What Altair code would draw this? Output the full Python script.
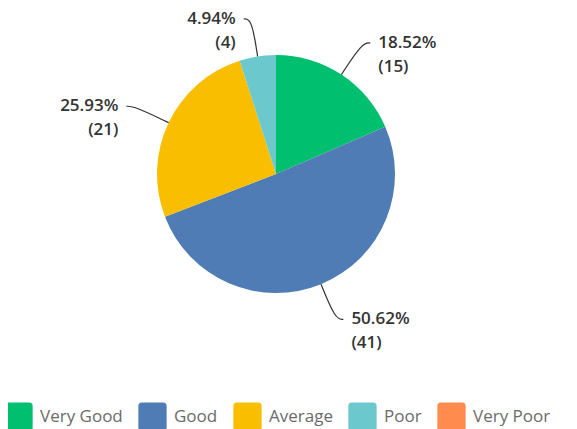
import altair as alt
import pandas as pd
import numpy as np

categories = ["Very Good", "Good", "Average", "Poor", "Very Poor"]
counts = [15, 41, 21, 4, 0]
colors = ["#00BF6F", "#507CB6", "#F9BE00", "#6BC8CD", "#FF8B4F"]

W, H = 561, 421
CX, CY, R = 268, 166, 119
R_ELBOW = 157
HOOK = 8
GAP = 8
LINE2 = 24

total = sum(counts)
df = pd.DataFrame({"category": categories, "count": counts, "order": list(range(len(categories)))})
df["pct_label"] = [f"{c / total * 100:.2f}%" for c in counts]
df["count_label"] = [f"({c})" for c in counts]
cum = df["count"].cumsum()
start = (cum - df["count"]) / total * 2 * np.pi
df["mid"] = start + df["count"] / total * np.pi

lab = df[df["count"] > 0].copy()
sgn = np.sign(np.sin(lab["mid"]))
ex = CX + R_ELBOW * np.sin(lab["mid"])
ey = CY - R_ELBOW * np.cos(lab["mid"])
lab["endx"] = ex + HOOK * sgn
lab["endy"] = ey
lab["tx"] = lab["endx"] + GAP * sgn
lab["ty2"] = lab["endy"] + LINE2
lab["align"] = np.where(sgn > 0, "left", "right")

rows = []
for _, r in lab.iterrows():
    a = r["mid"]
    pts = [
        (CX + R * np.sin(a), CY - R * np.cos(a)),
        (CX + R_ELBOW * np.sin(a), CY - R_ELBOW * np.cos(a)),
        (r["endx"], r["endy"]),
    ]
    for i, (px, py) in enumerate(pts):
        rows.append({"category": r["category"], "i": i, "x": px, "y": py})
lines = pd.DataFrame(rows)

xs = alt.Scale(domain=[0, W], nice=False, zero=False)
ys = alt.Scale(domain=[0, H], nice=False, zero=False, reverse=True)

rounded = "M-0.75,-1L0.75,-1Q1,-1 1,-0.75L1,0.75Q1,1 0.75,1L-0.75,1Q-1,1 -1,0.75L-1,-0.75Q-1,-1 -0.75,-1Z"

pie = alt.Chart(df).mark_arc(outerRadius=R).encode(
    theta=alt.Theta("count:Q", stack=True),
    order=alt.Order("order:Q"),
    x=alt.value(CX),
    y=alt.value(CY),
    color=alt.Color(
        "category:N",
        scale=alt.Scale(domain=categories, range=colors),
        legend=alt.Legend(
            orient="none", legendX=-4, legendY=394, direction="horizontal", columns=5,
            title=None, symbolType=rounded, symbolSize=800, symbolStrokeWidth=0,
            symbolOpacity=1, labelFontSize=17, labelColor="#6b6b6b", labelFont="Open Sans",
            labelOffset=7, columnPadding=15,
        ),
    ),
)

leader = alt.Chart(lines).mark_line(color="#333333", strokeWidth=1.2, interpolate="basis").encode(
    x=alt.X("x:Q", scale=xs, axis=None),
    y=alt.Y("y:Q", scale=ys, axis=None),
    detail="category:N",
    order="i:Q",
)

def text_layer(align, yfield, tfield):
    return alt.Chart(lab[lab["align"] == align]).mark_text(
        align=align, baseline="middle", font="Open Sans", fontSize=17, fontWeight=600, color="#333333"
    ).encode(
        x=alt.X("tx:Q", scale=xs, axis=None),
        y=alt.Y(f"{yfield}:Q", scale=ys, axis=None),
        text=f"{tfield}:N",
    )

texts = [text_layer(a, yf, tf) for a in ["left", "right"] for yf, tf in [("endy", "pct_label"), ("ty2", "count_label")]]

chart = alt.layer(pie, leader, *texts).properties(
    width=W, height=H, padding=0, autosize=alt.AutoSizeParams(type="none")
).configure_view(stroke=None).resolve_scale(x="shared", y="shared")

chart.save("out.html", embed_options={"renderer": "svg", "actions": False})
